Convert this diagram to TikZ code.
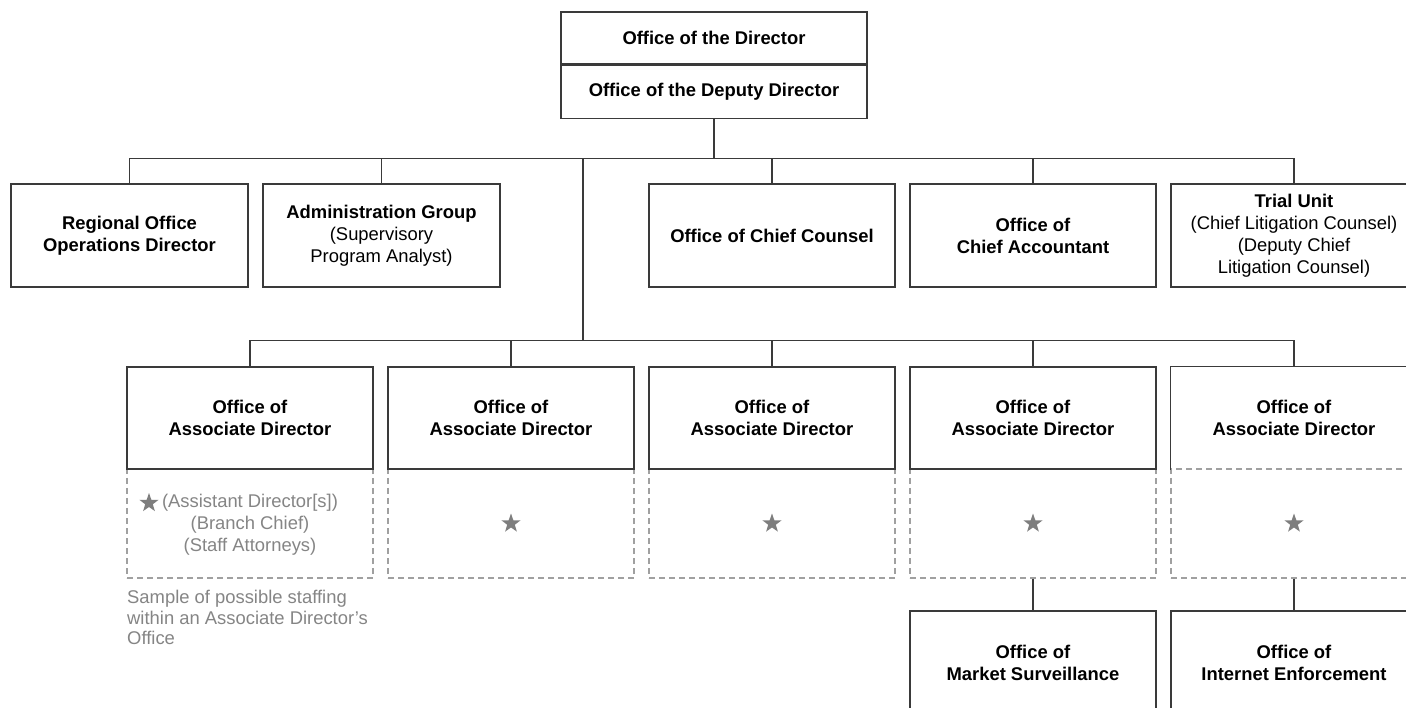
\documentclass[tikz,border=0pt]{standalone}
\usepackage{fontspec}
\setmainfont{Liberation Sans}
\usetikzlibrary{shapes.geometric}
\definecolor{lc}{HTML}{3A3A3A}
\definecolor{dc}{HTML}{A0A0A0}
\definecolor{gt}{HTML}{858585}
\definecolor{sc}{HTML}{7E7E7E}
\begin{document}
\begin{tikzpicture}[x=1pt,y=-1pt,
  every node/.style={font=\fontsize{18.4}{22}\selectfont},
  box/.style={draw=lc, line width=1.3pt, inner sep=0pt, align=center},
  wbox/.style={box, minimum width=246pt, minimum height=103pt},
  abox/.style={box, minimum width=246pt, minimum height=102pt},
  nbox/.style={box, minimum width=237pt, minimum height=103pt},
  dbox/.style={draw=dc, line width=1.2pt, dash pattern=on 6pt off 4pt, inner sep=0pt, minimum width=246pt, minimum height=109pt},
  link/.style={draw=lc, line width=1.3pt},
  starmark/.style={star, star points=5, star point ratio=2.5, fill=sc, minimum size=20pt, inner sep=0pt},
  gtext/.style={text=gt}
]
\useasboundingbox (0,0) rectangle (1406,708);
\fill[white] (0,0) rectangle (1406,708);
\clip (0,0) rectangle (1406,708);

% top
\node[box, minimum width=306pt, minimum height=52pt, font=\bfseries\fontsize{18.4}{22}\selectfont] (dir) at (714,38) {Office of the Director};
\node[box, minimum width=306pt, minimum height=53pt, font=\bfseries\fontsize{18.4}{22}\selectfont, anchor=north] (dep) at (dir.south) {Office of the Deputy Director};

% row 1
\node[nbox] (ro) at (129.5,235.5) {\textbf{Regional Office}\\\textbf{Operations Director}};
\node[nbox] (ag) at (381.5,235.5) {\textbf{Administration Group}\\(Supervisory\\Program Analyst)};
\node[wbox] (cc) at (772,235.5) {\textbf{Office of Chief Counsel}};
\node[wbox] (ca) at (1033,235.5) {\textbf{Office of}\\\textbf{Chief Accountant}};
\node[wbox] (tu) at (1294,235.5) {\textbf{Trial Unit}\\(Chief Litigation Counsel)\\(Deputy Chief\\Litigation Counsel)};

\coordinate (j1) at (714,159);
\coordinate (t1) at (583,159);
\coordinate (t2) at (583,341);
\draw[link] (dep.south) -- (j1);
\draw[link] (ro.north) -- ++(0,-25) -| (tu.north);
\draw[link] (ag.north) -- (ag.north |- j1);
\draw[link] (cc.north) -- (cc.north |- j1);
\draw[link] (ca.north) -- (ca.north |- j1);
\draw[link] (t1) -- (t2);

% staffing (dashed) boxes
\node[dbox] (sd1) at (250,523.5) {};
\node[dbox] (sd2) at (511,523.5) {};
\node[dbox] (sd3) at (772,523.5) {};
\node[dbox] (sd4) at (1033,523.5) {};
\node[dbox] (sd5) at (1294,523.5) {};

% row 2
\node[abox] (ad1) at (250,418) {\textbf{Office of}\\\textbf{Associate Director}};
\node[abox] (ad2) at (511,418) {\textbf{Office of}\\\textbf{Associate Director}};
\node[abox] (ad3) at (772,418) {\textbf{Office of}\\\textbf{Associate Director}};
\node[abox] (ad4) at (1033,418) {\textbf{Office of}\\\textbf{Associate Director}};
\node[abox, draw=none] (ad5) at (1294,418) {\textbf{Office of}\\\textbf{Associate Director}};
\draw[link] (ad5.south west) -- (ad5.north west) -- (ad5.north east);

\draw[link] (ad1.north) -- ++(0,-26) -| (ad5.north);
\draw[link] (ad2.north) -- (ad2.north |- t2);
\draw[link] (ad3.north) -- (ad3.north |- t2);
\draw[link] (ad4.north) -- (ad4.north |- t2);

% staffing content
\node[gtext, align=center] (staff) at (250,525) {(Assistant Director[s])\\(Branch Chief)\\(Staff Attorneys)};
\node[starmark] (st1) at (149,503) {};
\node[starmark] (st2) at (sd2.center) {};
\node[starmark] (st3) at (sd3.center) {};
\node[starmark] (st4) at (sd4.center) {};
\node[starmark] (st5) at (sd5.center) {};

\node[gtext, anchor=north west, align=left, inner sep=0pt, font=\fontsize{18.4}{20.5}\selectfont] (cap) at (127,590) {Sample of possible staffing\\within an Associate Director’s\\Office};

% bottom
\node[wbox] (ms) at (1033,662.5) {\textbf{Office of}\\\textbf{Market Surveillance}};
\node[wbox] (ie) at (1294,662.5) {\textbf{Office of}\\\textbf{Internet Enforcement}};
\draw[link] (sd4.south) -- (ms.north);
\draw[link] (sd5.south) -- (ie.north);
\end{tikzpicture}
\end{document}
